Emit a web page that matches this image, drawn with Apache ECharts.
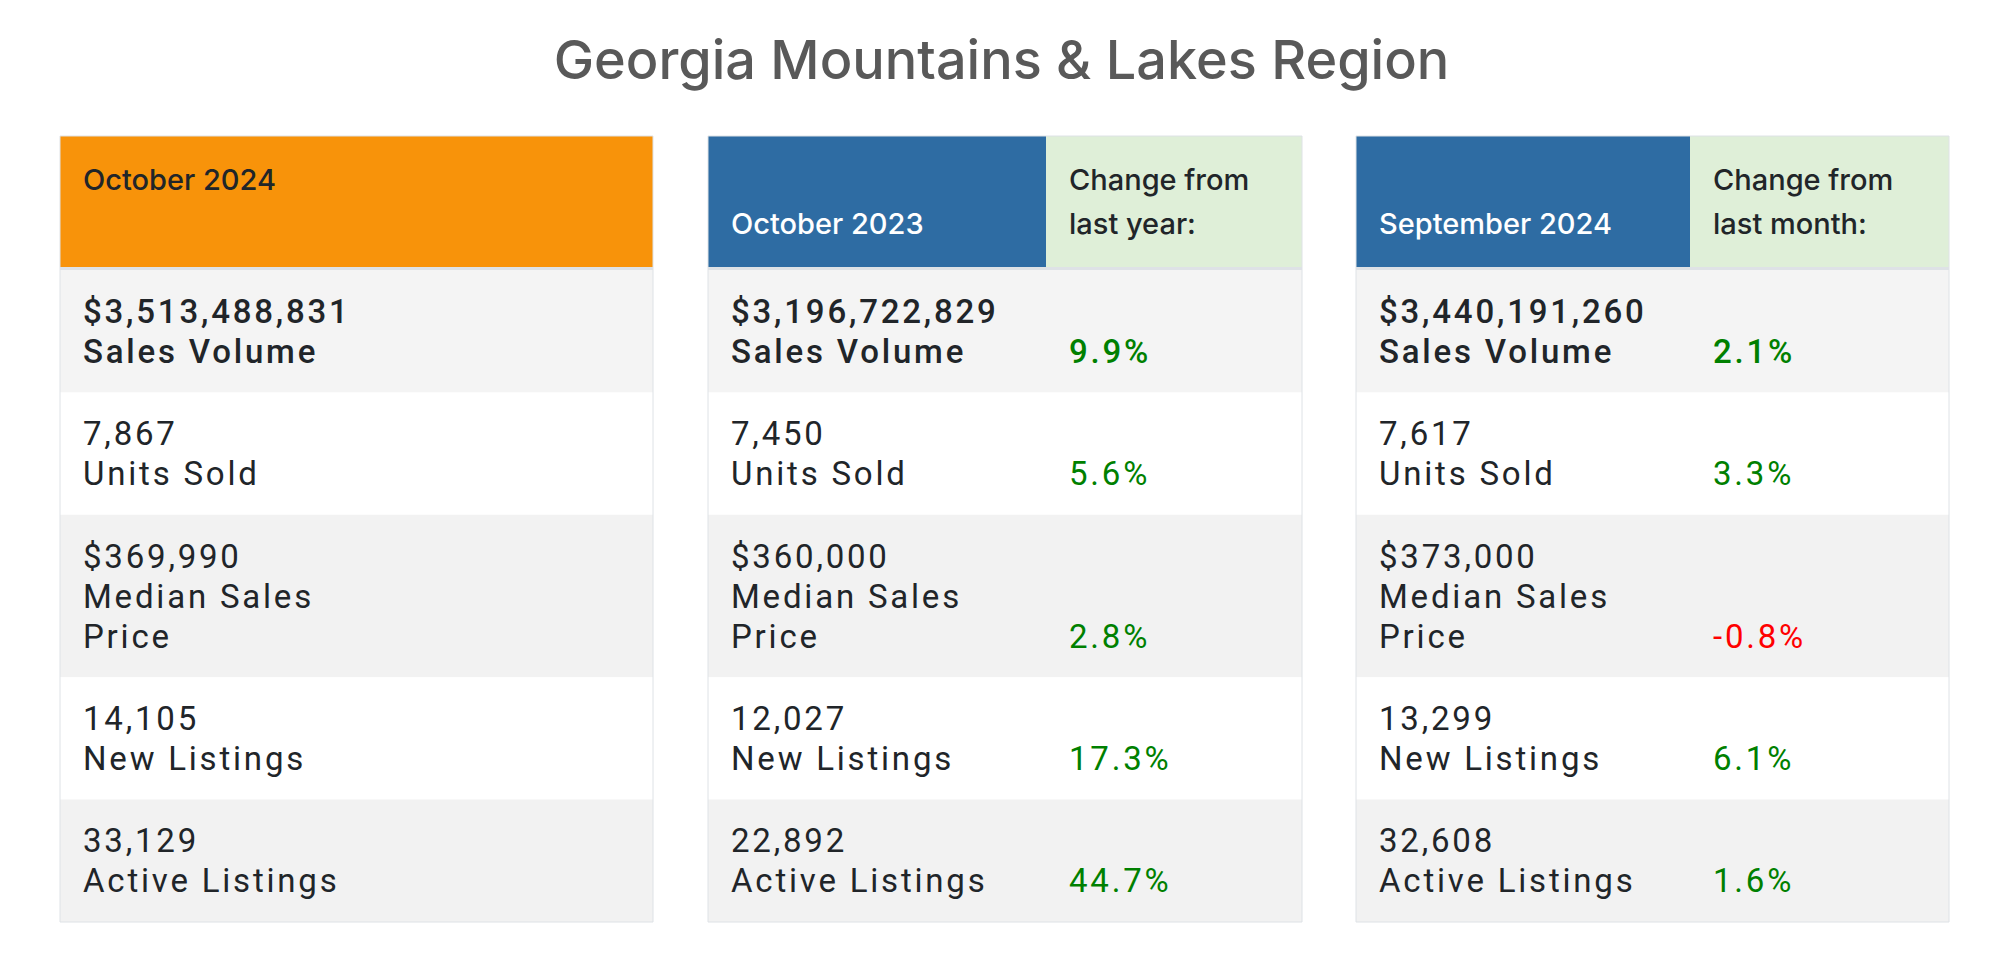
<!DOCTYPE html>
<html><head><meta charset="utf-8">
<script src="https://cdn.jsdelivr.net/npm/echarts@6/dist/echarts.min.js"></script>
<style>html,body{margin:0;padding:0;background:#fff;}#chart{width:2003px;height:972px;}</style>
</head><body><div id="chart"></div>
<script>
// ---- data ----
const chartTitle = 'Georgia Mountains & Lakes Region';
const periods = ['October 2024', 'October 2023', 'September 2024'];
const changeHeaders = ['', 'Change from\nlast year:', 'Change from\nlast month:'];
const metrics = ['Sales Volume', 'Units Sold', 'Median Sales\nPrice', 'New Listings', 'Active Listings'];
const isCurrency = [true, false, true, false, false];
const oct2024 = [3513488831, 7867, 369990, 14105, 33129];
const oct2023 = [3196722829, 7450, 360000, 12027, 22892];
const sep2024 = [3440191260, 7617, 373000, 13299, 32608];
const changeFromLastYear = [9.9, 5.6, 2.8, 17.3, 44.7];
const changeFromLastMonth = [2.1, 3.3, -0.8, 6.1, 1.6];

// ---- layout / style ----
const tableValues = [oct2024, oct2023, sep2024];
const tableChanges = [null, changeFromLastYear, changeFromLastMonth];
const LAY = {
  top: 136, lefts: [60, 708, 1356], widths: [593, 594, 593], splits: [null, 338, 334],
  padX: 23, padY: 21.2, lineH: 40, headerH: 131, ruleH: 3, headerLineH: 44
};
const COL = {
  orange: '#f8930a', blue: '#2e6ca3', green: '#dfefd8', rule: '#dee2e6', border: '#dee2e6',
  row1: '#f4f4f4', rowGray: '#f2f2f2', rowWhite: '#ffffff', text: '#212529',
  pos: '#008000', neg: '#ff0000', title: '#595959'
};
const headFont = '500 29px Inter';
const bodyFont = '400 33px Roboto';
const boldFont = '500 33px Roboto';

const rowLines = metrics.map(m => 1 + m.split('\n').length);
const rowHeights = rowLines.map(n => 2 * LAY.padY + n * LAY.lineH);
const rowStarts = [];
{ let y = LAY.headerH + LAY.ruleH; rowHeights.forEach(h => { rowStarts.push(y); y += h; }); }
const total = LAY.headerH + LAY.ruleH + rowHeights.reduce((a, b) => a + b, 0);

function fmtValue(v, cur) { return (cur ? '$' : '') + v.toLocaleString('en-US'); }
function fmtChange(v) { return v.toFixed(1) + '%'; }

function makeRender(t) {
  const W = LAY.widths[t];
  const split = LAY.splits[t];
  return function (params, api) {
    const idx = api.value(0);
    const children = [];
    const rect = (x0, y0, x1, y1, fill) => {
      const p0 = api.coord([x0, y0]), p1 = api.coord([x1, y1]);
      children.push({ type: 'rect', shape: { x: p0[0], y: p0[1], width: p1[0] - p0[0], height: p1[1] - p0[1] }, style: { fill: fill } });
    };
    const text = (x, y, str, font, fill) => {
      const p = api.coord([x, y]);
      children.push({ type: 'text', style: { x: p[0], y: p[1], text: str, font: font, fill: fill, textAlign: 'left', textVerticalAlign: 'middle' } });
    };
    if (idx === 0) {
      const y0 = 0, y1 = LAY.headerH;
      const l1 = y0 + LAY.padY + LAY.headerLineH / 2, l2 = l1 + LAY.headerLineH;
      if (split == null) {
        rect(0, y0, W, y1, COL.orange);
        text(LAY.padX, l1, periods[t], headFont, COL.text);
      } else {
        rect(0, y0, split, y1, COL.blue);
        rect(split, y0, W, y1, COL.green);
        text(LAY.padX, l2, periods[t], headFont, '#ffffff');
        const hl = changeHeaders[t].split('\n');
        text(split + LAY.padX, l1, hl[0], headFont, COL.text);
        text(split + LAY.padX, l2, hl[1], headFont, COL.text);
      }
      rect(0, y1, W, y1 + LAY.ruleH, COL.rule);
    } else {
      const r = idx - 1;
      const y0 = rowStarts[r], y1 = y0 + rowHeights[r];
      const fill = r === 0 ? COL.row1 : (r % 2 === 0 ? COL.rowGray : COL.rowWhite);
      rect(0, y0, W, y1, fill);
      const font = r === 0 ? boldFont : bodyFont;
      const lines = [fmtValue(tableValues[t][r], isCurrency[r])].concat(metrics[r].split('\n'));
      lines.forEach((s, k) => text(LAY.padX, y0 + LAY.padY + LAY.lineH * (k + 0.5), s, font, COL.text));
      if (split != null) {
        const v = tableChanges[t][r];
        const yl = y0 + LAY.padY + LAY.lineH * (lines.length - 0.5);
        text(split + LAY.padX, yl, fmtChange(v), font, v < 0 ? COL.neg : COL.pos);
      }
    }
    return { type: 'group', children: children };
  };
}

const grids = [], xAxes = [], yAxes = [], series = [];
for (let t = 0; t < 3; t++) {
  grids.push({ left: LAY.lefts[t], top: LAY.top, width: LAY.widths[t], height: total, show: true,
    borderColor: COL.border, borderWidth: 1, backgroundColor: 'transparent', z: 5 });
  xAxes.push({ type: 'value', gridIndex: t, min: 0, max: LAY.widths[t], show: false });
  yAxes.push({ type: 'value', gridIndex: t, min: 0, max: total, inverse: true, show: false });
  series.push({ type: 'custom', xAxisIndex: t, yAxisIndex: t, z: 1, silent: true,
    data: [0, 1, 2, 3, 4, 5].map(i => [i]), renderItem: makeRender(t) });
}

const chart = echarts.init(document.getElementById('chart'), null, { renderer: 'svg' });
chart.setOption({
  animation: false,
  backgroundColor: '#ffffff',
  title: { text: chartTitle, left: 'center', top: 27,
    textStyle: { fontFamily: 'Inter', fontWeight: 500, fontSize: 54, color: COL.title } },
  grid: grids, xAxis: xAxes, yAxis: yAxes, series: series
});
function applySpacing() {
  document.querySelectorAll('#chart text').forEach(el => {
    const ff = getComputedStyle(el).fontFamily;
    if (/Roboto/.test(ff)) el.style.letterSpacing = '2.8px';
  });
}
chart.on('finished', applySpacing);
applySpacing();
</script></body></html>
